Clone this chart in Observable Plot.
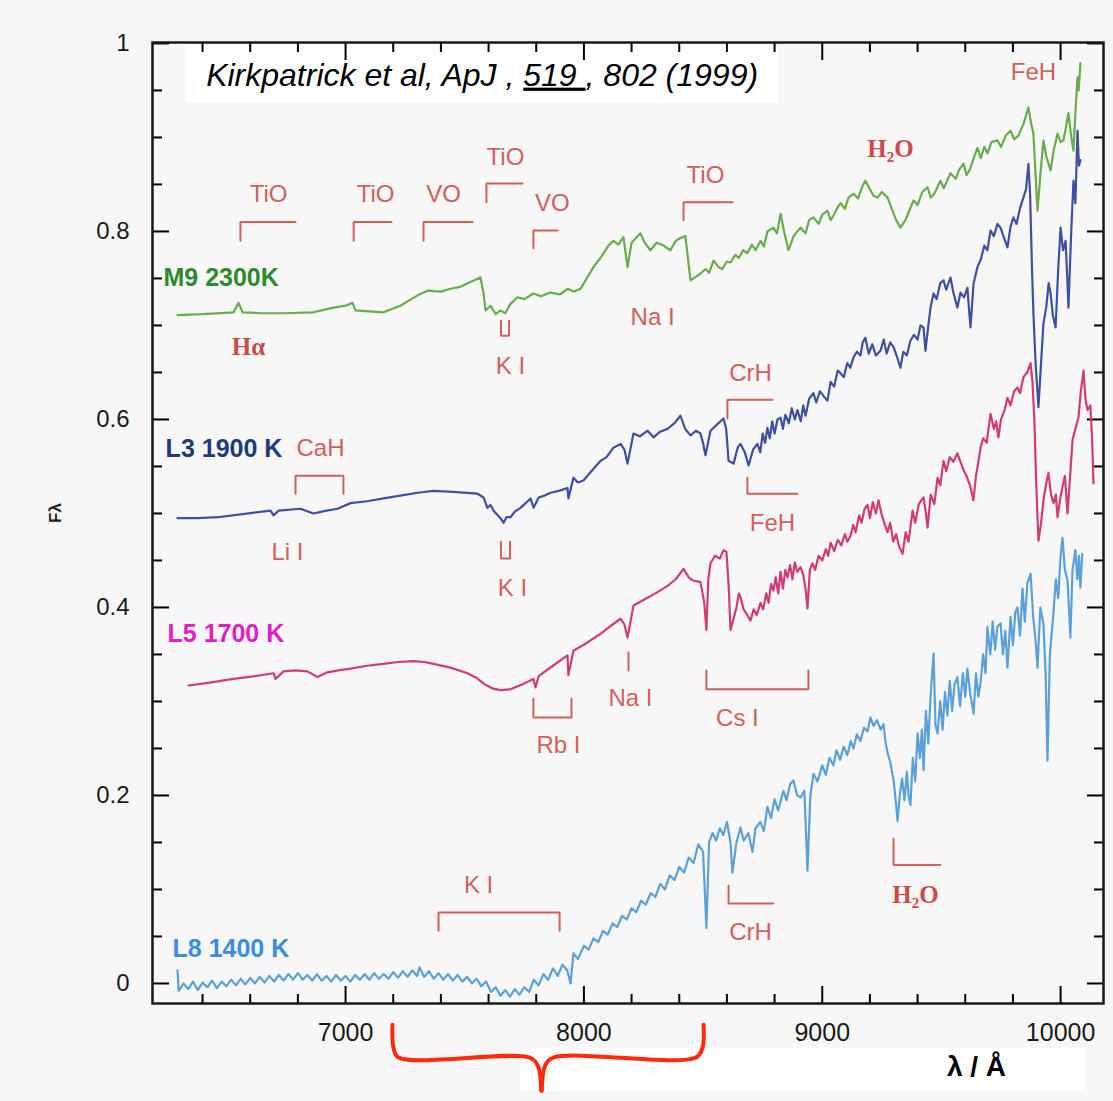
<!DOCTYPE html>
<html>
<head>
<meta charset="utf-8">
<script src="https://cdn.jsdelivr.net/npm/d3@7"></script>
<script src="https://cdn.jsdelivr.net/npm/@observablehq/plot@0.6"></script>
<style>
  body { margin: 0; background: #f7f7f7; }
  #chart { width: 1113px; height: 1101px; }
</style>
</head>
<body>
<div id="chart"></div>
<script>
// ---------------- DATA ----------------
const seriesNames = ["M9 2300K", "L3 1900 K", "L5 1700 K", "L8 1400 K"];

// [wavelength (Å), normalised flux]
const m9Spectrum = [
  [6295,0.711],[6400,0.712],[6530,0.714],[6551,0.724],[6568,0.714],[6650,0.713],[6740,0.713],[6865,0.714],
  [6949,0.719],[7000,0.721],[7029,0.724],[7042,0.716],[7100,0.715],[7159,0.714],[7230,0.721],[7302,0.732],
  [7344,0.737],[7400,0.736],[7440,0.739],[7480,0.741],[7512,0.745],[7566,0.751],[7579,0.734],[7587,0.716],
  [7608,0.721],[7630,0.712],[7650,0.716],[7670,0.713],[7692,0.723],[7721,0.730],[7750,0.728],[7788,0.734],
  [7820,0.731],[7860,0.735],[7900,0.733],[7931,0.739],[7960,0.736],[7986,0.739],[8040,0.762],[8070,0.772],
  [8103,0.785],[8124,0.790],[8145,0.786],[8166,0.794],[8183,0.762],[8200,0.788],[8237,0.798],[8255,0.788],
  [8279,0.780],[8305,0.788],[8334,0.785],[8363,0.780],[8385,0.790],[8405,0.793],[8426,0.795],[8447,0.748],
  [8470,0.752],[8489,0.755],[8510,0.760],[8525,0.756],[8544,0.769],[8565,0.762],[8580,0.760],[8600,0.768],
  [8615,0.767],[8635,0.775],[8650,0.772],[8668,0.780],[8686,0.777],[8705,0.786],[8720,0.780],[8741,0.790],
  [8755,0.784],[8770,0.800],[8795,0.804],[8810,0.798],[8825,0.819],[8840,0.800],[8858,0.780],[8880,0.795],
  [8895,0.800],[8909,0.804],[8930,0.798],[8945,0.812],[8963,0.815],[8985,0.808],[9000,0.818],[9022,0.822],
  [9035,0.812],[9050,0.818],[9065,0.826],[9077,0.830],[9095,0.824],[9110,0.836],[9131,0.840],[9150,0.835],
  [9168,0.848],[9181,0.854],[9200,0.845],[9215,0.838],[9232,0.836],[9250,0.842],[9274,0.836],[9295,0.822],
  [9310,0.812],[9328,0.804],[9349,0.812],[9365,0.822],[9383,0.833],[9400,0.828],[9420,0.842],[9442,0.847],
  [9455,0.836],[9470,0.840],[9496,0.854],[9510,0.846],[9538,0.862],[9560,0.856],[9575,0.866],[9593,0.872],
  [9605,0.860],[9620,0.866],[9635,0.878],[9651,0.889],[9665,0.878],[9680,0.890],[9693,0.883],[9710,0.895],
  [9735,0.897],[9750,0.890],[9770,0.902],[9790,0.907],[9805,0.898],[9823,0.902],[9845,0.915],[9865,0.932],
  [9876,0.915],[9886,0.904],[9895,0.860],[9903,0.822],[9915,0.860],[9928,0.897],[9940,0.880],[9958,0.865],
  [9970,0.885],[9987,0.904],[10000,0.895],[10012,0.897],[10022,0.910],[10033,0.926],[10045,0.900],[10054,0.886],
  [10063,0.930],[10071,0.964],[10076,0.950],[10083,0.979]
];

const l3Spectrum = [
  [6295,0.495],[6380,0.495],[6463,0.496],[6560,0.499],[6685,0.503],[6698,0.498],[6719,0.503],[6811,0.505],
  [6865,0.500],[6920,0.503],[6966,0.505],[7021,0.511],[7090,0.513],[7159,0.516],[7230,0.519],[7302,0.522],
  [7369,0.524],[7450,0.523],[7554,0.521],[7579,0.517],[7595,0.506],[7608,0.509],[7621,0.503],[7650,0.495],
  [7663,0.490],[7675,0.496],[7692,0.496],[7710,0.502],[7734,0.506],[7760,0.512],[7776,0.516],[7789,0.506],
  [7810,0.517],[7835,0.519],[7860,0.522],[7895,0.524],[7931,0.527],[7935,0.516],[7956,0.538],[7975,0.533],
  [7998,0.535],[8035,0.546],[8070,0.556],[8095,0.560],[8124,0.570],[8154,0.574],[8170,0.568],[8183,0.553],
  [8208,0.585],[8235,0.582],[8267,0.588],[8292,0.581],[8320,0.587],[8351,0.590],[8380,0.596],[8405,0.604],
  [8425,0.590],[8447,0.583],[8470,0.588],[8489,0.585],[8500,0.575],[8510,0.562],[8531,0.588],[8560,0.595],
  [8586,0.601],[8597,0.590],[8607,0.556],[8628,0.553],[8645,0.570],[8657,0.574],[8675,0.565],[8691,0.551],
  [8710,0.568],[8728,0.574],[8740,0.565],[8750,0.585],[8760,0.575],[8770,0.591],[8780,0.580],[8790,0.598],
  [8800,0.585],[8812,0.600],[8825,0.602],[8835,0.590],[8845,0.605],[8860,0.596],[8872,0.612],[8885,0.600],
  [8896,0.610],[8910,0.598],[8920,0.615],[8930,0.604],[8945,0.622],[8963,0.628],[8975,0.618],[8990,0.630],
  [9005,0.625],[9022,0.620],[9035,0.640],[9050,0.635],[9065,0.652],[9077,0.649],[9090,0.645],[9105,0.660],
  [9118,0.655],[9131,0.666],[9145,0.672],[9160,0.668],[9170,0.682],[9181,0.687],[9195,0.670],[9210,0.680],
  [9225,0.668],[9244,0.673],[9258,0.685],[9270,0.670],[9285,0.682],[9299,0.677],[9312,0.668],[9328,0.655],
  [9340,0.672],[9355,0.668],[9370,0.684],[9385,0.690],[9400,0.685],[9412,0.700],[9425,0.698],[9433,0.673],
  [9445,0.700],[9455,0.720],[9467,0.734],[9480,0.728],[9495,0.745],[9509,0.748],[9520,0.738],[9538,0.751],
  [9550,0.735],[9567,0.719],[9580,0.735],[9595,0.730],[9609,0.740],[9615,0.720],[9622,0.698],[9635,0.745],
  [9651,0.762],[9665,0.770],[9680,0.785],[9693,0.780],[9706,0.801],[9720,0.795],[9735,0.808],[9748,0.804],
  [9760,0.795],[9777,0.783],[9790,0.805],[9802,0.815],[9815,0.808],[9830,0.825],[9844,0.836],[9855,0.845],
  [9865,0.872],[9872,0.840],[9880,0.760],[9886,0.713],[9895,0.660],[9907,0.613],[9918,0.660],[9928,0.702],
  [9940,0.720],[9950,0.745],[9958,0.734],[9968,0.710],[9979,0.698],[9990,0.760],[10000,0.804],[10010,0.780],
  [10021,0.790],[10028,0.750],[10033,0.719],[10043,0.790],[10054,0.854],[10062,0.830],[10071,0.907],
  [10077,0.870],[10083,0.876]
];

const l5Spectrum = [
  [6341,0.317],[6430,0.320],[6530,0.324],[6620,0.327],[6698,0.330],[6706,0.324],[6740,0.332],[6790,0.333],
  [6840,0.332],[6882,0.326],[6924,0.331],[6970,0.333],[7021,0.335],[7090,0.338],[7159,0.340],[7220,0.342],
  [7285,0.343],[7330,0.342],[7369,0.340],[7440,0.336],[7512,0.330],[7550,0.325],[7579,0.319],[7615,0.314],
  [7650,0.312],[7692,0.313],[7740,0.318],[7788,0.324],[7797,0.315],[7810,0.327],[7870,0.338],[7931,0.349],
  [7935,0.328],[7956,0.354],[8010,0.362],[8070,0.372],[8110,0.380],[8154,0.388],[8170,0.382],[8183,0.368],
  [8208,0.402],[8250,0.408],[8300,0.415],[8351,0.423],[8385,0.430],[8418,0.441],[8440,0.432],[8455,0.429],
  [8489,0.427],[8505,0.405],[8514,0.376],[8522,0.430],[8531,0.447],[8550,0.455],[8570,0.452],[8586,0.461],
  [8598,0.459],[8608,0.420],[8615,0.376],[8625,0.385],[8640,0.400],[8650,0.415],[8657,0.411],[8670,0.398],
  [8685,0.392],[8699,0.386],[8712,0.398],[8725,0.392],[8741,0.405],[8752,0.398],[8765,0.415],[8775,0.405],
  [8785,0.425],[8795,0.418],[8805,0.432],[8815,0.415],[8825,0.438],[8835,0.420],[8845,0.440],[8854,0.432],
  [8865,0.445],[8875,0.430],[8885,0.448],[8895,0.438],[8909,0.443],[8920,0.435],[8930,0.420],[8938,0.399],
  [8948,0.440],[8959,0.447],[8970,0.440],[8985,0.455],[9000,0.450],[9015,0.462],[9025,0.455],[9035,0.469],
  [9050,0.460],[9065,0.472],[9080,0.466],[9095,0.478],[9105,0.470],[9118,0.476],[9130,0.488],[9140,0.480],
  [9155,0.498],[9165,0.490],[9178,0.505],[9190,0.509],[9200,0.495],[9212,0.512],[9225,0.500],[9236,0.514],
  [9248,0.500],[9260,0.490],[9274,0.480],[9285,0.490],[9298,0.470],[9310,0.478],[9322,0.465],[9337,0.457],
  [9350,0.480],[9362,0.470],[9379,0.503],[9390,0.490],[9405,0.510],[9425,0.517],[9435,0.500],[9442,0.485],
  [9455,0.520],[9470,0.510],[9484,0.538],[9495,0.530],[9509,0.556],[9520,0.545],[9535,0.560],[9550,0.555],
  [9567,0.564],[9580,0.555],[9593,0.546],[9605,0.540],[9620,0.530],[9634,0.514],[9645,0.540],[9655,0.555],
  [9664,0.570],[9675,0.580],[9690,0.575],[9706,0.606],[9720,0.590],[9730,0.598],[9739,0.581],[9750,0.600],
  [9765,0.610],[9777,0.623],[9790,0.615],[9805,0.630],[9819,0.634],[9830,0.628],[9844,0.645],[9860,0.650],
  [9874,0.660],[9882,0.640],[9890,0.599],[9898,0.530],[9907,0.471],[9918,0.490],[9928,0.514],[9938,0.530],
  [9949,0.543],[9960,0.520],[9970,0.511],[9980,0.520],[9987,0.496],[9998,0.515],[10008,0.528],[10018,0.540],
  [10029,0.500],[10040,0.540],[10050,0.578],[10062,0.590],[10075,0.602],[10085,0.630],[10096,0.652],
  [10105,0.620],[10113,0.610],[10125,0.615],[10132,0.580],[10138,0.532]
];

const l8Spectrum = [
  [6295,0.014],[6300,-0.008],[6320,0.000],[6340,-0.006],[6360,0.002],[6380,-0.007],[6400,0.001],[6420,-0.004],
  [6440,0.003],[6460,-0.005],[6480,0.002],[6500,-0.003],[6520,0.004],[6540,-0.002],[6560,0.005],[6580,-0.001],
  [6600,0.006],[6620,0.000],[6640,0.007],[6660,0.001],[6680,0.008],[6700,0.002],[6720,0.009],[6740,0.003],
  [6760,0.010],[6780,0.004],[6800,0.011],[6820,0.004],[6840,0.009],[6860,0.003],[6880,0.010],[6900,0.003],
  [6920,0.008],[6940,0.002],[6960,0.009],[6980,0.003],[7000,0.008],[7020,0.002],[7040,0.009],[7060,0.004],
  [7080,0.010],[7100,0.004],[7120,0.011],[7140,0.005],[7160,0.010],[7180,0.005],[7200,0.012],[7220,0.006],
  [7240,0.013],[7260,0.007],[7280,0.014],[7300,0.008],[7310,0.017],[7330,0.007],[7350,0.013],[7370,0.005],
  [7390,0.011],[7410,0.004],[7430,0.010],[7450,0.003],[7470,0.009],[7490,0.002],[7510,0.007],[7530,0.000],
  [7550,0.005],[7570,-0.003],[7590,0.002],[7610,-0.009],[7630,-0.004],[7650,-0.013],[7670,-0.007],[7690,-0.014],
  [7710,-0.006],[7730,-0.012],[7750,-0.004],[7770,-0.009],[7790,0.004],[7810,-0.002],[7830,0.010],[7850,0.004],
  [7870,0.016],[7890,0.008],[7910,0.020],[7930,0.014],[7944,0.000],[7956,0.032],[7975,0.026],[8000,0.040],
  [8020,0.036],[8040,0.048],[8060,0.044],[8080,0.056],[8100,0.052],[8120,0.064],[8140,0.060],[8160,0.072],
  [8180,0.068],[8200,0.080],[8220,0.076],[8240,0.088],[8260,0.084],[8280,0.096],[8300,0.092],[8320,0.106],
  [8340,0.100],[8360,0.115],[8380,0.110],[8400,0.124],[8420,0.118],[8440,0.134],[8460,0.128],[8480,0.148],
  [8500,0.140],[8514,0.059],[8525,0.150],[8540,0.160],[8555,0.152],[8570,0.165],[8585,0.158],[8600,0.172],
  [8615,0.150],[8623,0.118],[8640,0.150],[8657,0.166],[8670,0.152],[8690,0.160],[8707,0.140],[8720,0.165],
  [8740,0.172],[8755,0.162],[8770,0.188],[8785,0.176],[8800,0.196],[8815,0.184],[8837,0.205],[8850,0.195],
  [8865,0.212],[8879,0.216],[8895,0.200],[8909,0.198],[8925,0.205],[8938,0.120],[8950,0.200],[8963,0.223],
  [8980,0.215],[9000,0.232],[9015,0.222],[9030,0.240],[9047,0.232],[9060,0.248],[9075,0.238],[9090,0.252],
  [9105,0.243],[9120,0.258],[9131,0.250],[9145,0.265],[9160,0.258],[9175,0.272],[9190,0.268],[9202,0.283],
  [9215,0.274],[9230,0.280],[9245,0.270],[9257,0.276],[9265,0.258],[9274,0.245],[9285,0.236],[9300,0.215],
  [9310,0.190],[9316,0.173],[9325,0.200],[9335,0.218],[9345,0.195],[9355,0.225],[9362,0.200],[9370,0.190],
  [9380,0.240],[9390,0.215],[9400,0.266],[9410,0.240],[9418,0.270],[9425,0.227],[9435,0.290],[9445,0.255],
  [9454,0.304],[9467,0.351],[9475,0.275],[9484,0.266],[9495,0.300],[9505,0.270],[9515,0.310],[9525,0.285],
  [9535,0.322],[9545,0.290],[9555,0.318],[9567,0.326],[9578,0.295],[9590,0.330],[9600,0.305],[9609,0.335],
  [9620,0.310],[9635,0.287],[9645,0.330],[9655,0.305],[9664,0.320],[9675,0.350],[9685,0.330],[9693,0.379],
  [9705,0.350],[9715,0.385],[9725,0.355],[9735,0.380],[9748,0.383],[9758,0.350],[9768,0.375],[9777,0.336],
  [9790,0.390],[9800,0.360],[9810,0.395],[9819,0.400],[9830,0.370],[9840,0.420],[9850,0.385],[9860,0.425],
  [9874,0.436],[9885,0.390],[9895,0.365],[9903,0.336],[9915,0.400],[9928,0.383],[9937,0.330],[9945,0.237],
  [9955,0.350],[9970,0.394],[9980,0.430],[9990,0.410],[10000,0.455],[10008,0.474],[10018,0.440],[10029,0.429],
  [10035,0.400],[10041,0.368],[10050,0.440],[10062,0.461],[10070,0.430],[10077,0.455],[10083,0.421],[10091,0.457]
];

// axis ticks
const xMajorTicks = [7000, 8000, 9000, 10000];
const xMinorTicks = [6400, 6600, 6800, 7200, 7400, 7600, 7800, 8200, 8400, 8600, 8800, 9200, 9400, 9600, 9800];
const yMajorTicks = [0, 0.2, 0.4, 0.6, 0.8, 1];
const yMinorTicks = [0.05, 0.1, 0.15, 0.25, 0.3, 0.35, 0.45, 0.5, 0.55, 0.65, 0.7, 0.75, 0.85, 0.9, 0.95];
const xDomain = [6190, 10180];
const yDomain = [-0.0213, 1.001];

// spectral feature labels (wavelength, flux)
const featureLabels = [
  {label: "TiO", x: 6677, y: 0.840}, {label: "TiO", x: 7126, y: 0.840}, {label: "VO", x: 7411, y: 0.840},
  {label: "TiO", x: 7671, y: 0.879}, {label: "VO", x: 7868, y: 0.830}, {label: "TiO", x: 8510, y: 0.860},
  {label: "K I", x: 7692, y: 0.657}, {label: "Na I", x: 8288, y: 0.709}, {label: "FeH", x: 9886, y: 0.969},
  {label: "CrH", x: 8699, y: 0.649}, {label: "FeH", x: 8791, y: 0.490}, {label: "CaH", x: 6895, y: 0.569},
  {label: "Li I", x: 6756, y: 0.459}, {label: "K I", x: 7700, y: 0.420}, {label: "Na I", x: 8195, y: 0.303},
  {label: "Rb I", x: 7893, y: 0.253}, {label: "Cs I", x: 8644, y: 0.282}, {label: "K I", x: 7558, y: 0.104},
  {label: "CrH", x: 8699, y: 0.054}
];
const serifLabels = [
  {label: "Hα", x: 6593, y: 0.677}, {label: "H₂O", x: 9286, y: 0.888}, {label: "H₂O", x: 9391, y: 0.094}
];
const featureBrackets = [
  [[6559,0.790],[6559,0.810],[6790,0.810]],
  [[7034,0.790],[7034,0.810],[7193,0.810]],
  [[7327,0.790],[7327,0.810],[7533,0.810]],
  [[7591,0.831],[7591,0.851],[7742,0.851]],
  [[7788,0.782],[7788,0.801],[7889,0.801]],
  [[8418,0.812],[8418,0.831],[8624,0.831]],
  [[7652,0.705],[7652,0.689],[7686,0.689],[7686,0.705]],
  [[8602,0.601],[8602,0.621],[8791,0.621]],
  [[8686,0.538],[8686,0.521],[8896,0.521]],
  [[6790,0.521],[6790,0.540],[6991,0.540],[6991,0.521]],
  [[7652,0.470],[7652,0.452],[7690,0.452],[7690,0.470]],
  [[8187,0.352],[8187,0.333]],
  [[7788,0.303],[7788,0.283],[7948,0.283],[7948,0.303]],
  [[8514,0.333],[8514,0.313],[8942,0.313],[8942,0.333]],
  [[7390,0.056],[7390,0.0755],[7898,0.0755],[7898,0.056]],
  [[8607,0.104],[8607,0.085],[8795,0.085]],
  [[9299,0.154],[9299,0.126],[9496,0.126]]
];
const seriesLabelPos = [[6236, 0.751], [6245, 0.569], [6253, 0.372], [6274, 0.037]];

const titleParts = ["Kirkpatrick et al, ApJ , ", "519 ", ", 802 (1999)"];
const titleBox = {x1: 6328, x2: 8812, y1: 0.937, y2: 0.998};
const titlePos = {x: 6415, y: 0.966};
const axisLabel = "λ / Å";
const axisLabelBox = {x1: 7734, x2: 10104, y1: -0.114, y2: -0.069};
const axisLabelPos = {x: 9647, y: -0.089};
const bracePaths = [
  [[7197,-0.044],[7201,-0.068],[7222,-0.0787],[7770,-0.0787],[7806,-0.087],[7821,-0.114]],
  [[7823,-0.114],[7838,-0.087],[7874,-0.0787],[8470,-0.0787],[8498,-0.068],[8502,-0.044]]
];

// ---------------- STYLES ----------------
const lineColors = ["#68ad4b", "#3f50a2", "#d33b73", "#5ba0d9"];
const labelColors = ["#2e8a2e", "#1d3b7c", "#e01ec8", "#3a8de4"];
const annotColor = "#d2605a";
const font = "Liberation Sans, Arial, Helvetica, sans-serif";

const spectra = [m9Spectrum, l3Spectrum, l5Spectrum, l8Spectrum];
const lineMarks = spectra.map((s, i) =>
  Plot.line(s.map(([w, f]) => ({wavelength: w, flux: f, series: seriesNames[i]})),
    {x: "wavelength", y: "flux", stroke: lineColors[i], strokeWidth: 2.2, strokeLinejoin: "round"}));

const bracketRows = featureBrackets.flatMap((pts, id) => pts.map(([x, y]) => ({x, y, id})));
const braceRows = bracePaths.flatMap((pts, id) => pts.map(([x, y]) => ({x, y, id})));
const seriesLabelRows = seriesNames.map((name, i) => ({label: name, x: seriesLabelPos[i][0], y: seriesLabelPos[i][1], color: labelColors[i]}));
const titleText = titleParts.join("");

const plot = Plot.plot({
  width: 1113,
  height: 1101,
  marginLeft: 152,
  marginRight: 10,
  marginTop: 42,
  marginBottom: 98,
  style: {background: "#f7f7f7", fontFamily: font, overflow: "visible"},
  x: {domain: xDomain},
  y: {domain: yDomain},
  marks: [
    Plot.rect([titleBox], {x1: "x1", x2: "x2", y1: "y1", y2: "y2", fill: "white"}),
    Plot.rect([axisLabelBox], {x1: "x1", x2: "x2", y1: "y1", y2: "y2", fill: "white"}),
    // ticks (inward on all sides)
    Plot.axisX(xMajorTicks, {anchor: "bottom", tickSize: -17, strokeWidth: 2, tickFormat: () => ""}),
    Plot.axisX(xMinorTicks, {anchor: "bottom", tickSize: -9, strokeWidth: 2, tickFormat: () => ""}),
    Plot.axisX(xMajorTicks, {anchor: "top", tickSize: -17, strokeWidth: 2, tickFormat: () => ""}),
    Plot.axisX(xMinorTicks, {anchor: "top", tickSize: -9, strokeWidth: 2, tickFormat: () => ""}),
    Plot.axisY(yMajorTicks, {anchor: "left", tickSize: -17, strokeWidth: 2, tickFormat: () => ""}),
    Plot.axisY(yMinorTicks, {anchor: "left", tickSize: -10, strokeWidth: 2, tickFormat: () => ""}),
    Plot.axisY(yMajorTicks, {anchor: "right", tickSize: -17, strokeWidth: 2, tickFormat: () => ""}),
    Plot.axisY(yMinorTicks, {anchor: "right", tickSize: -10, strokeWidth: 2, tickFormat: () => ""}),
    // tick labels
    Plot.axisX(xMajorTicks, {anchor: "bottom", tickSize: 0, tickPadding: 20, fontSize: 25, fill: "#1a1a1a", tickFormat: d => String(d)}),
    Plot.axisY(yMajorTicks, {anchor: "left", tickSize: 0, tickPadding: 23, fontSize: 24, fill: "#1a1a1a", tickFormat: d => String(d)}),
    // spectra
    ...lineMarks,
    // feature brackets
    Plot.line(bracketRows, {x: "x", y: "y", z: "id", stroke: annotColor, strokeWidth: 2, strokeLinejoin: "miter"}),
    Plot.text(featureLabels, {x: "x", y: "y", text: "label", fill: annotColor, fontSize: 24, fontFamily: font}),
    Plot.text(serifLabels, {x: "x", y: "y", text: "label", fill: "#cc4a48", fontSize: 25, fontWeight: "bold", fontFamily: "Liberation Serif, DejaVu Serif, serif"}),
    // series labels
    Plot.text(seriesLabelRows, {x: "x", y: "y", text: "label", fill: "color", textAnchor: "start", fontSize: 25, fontWeight: "bold", fontFamily: font}),
    // title
    Plot.text([titlePos], {x: "x", y: "y", text: () => titleText, textAnchor: "start", fontSize: 32, fontStyle: "italic", fill: "#000", fontFamily: font}),
    // x axis label
    Plot.text([axisLabelPos], {x: "x", y: "y", text: () => axisLabel, fontSize: 28, fontWeight: "bold", fill: "#000", fontFamily: font}),
    // y axis label
    Plot.text(["Fλ"], {frameAnchor: "left", dx: -97, rotate: -90, text: d => d, fontSize: 17, fontWeight: "bold", fill: "#222", fontFamily: font}),
    // red brace
    Plot.line(braceRows, {x: "x", y: "y", z: "id", stroke: "#ff2a0a", strokeWidth: 4, curve: "catmull-rom", strokeLinecap: "round"}),
    Plot.frame({stroke: "#1a1a1a", strokeWidth: 2.5})
  ]
});

// underline the volume number in the citation
const titleNode = Array.from(plot.querySelectorAll("text")).find(t => t.textContent === titleText);
if (titleNode) {
  titleNode.textContent = "";
  titleParts.forEach((part, i) => {
    const ts = document.createElementNS("http://www.w3.org/2000/svg", "tspan");
    ts.textContent = part;
    if (i === 1) ts.setAttribute("text-decoration", "underline");
    titleNode.appendChild(ts);
  });
  titleNode.setAttribute("xml:space", "preserve");
  titleNode.style.whiteSpace = "pre";
}

document.getElementById("chart").appendChild(plot);
</script>
</body>
</html>
